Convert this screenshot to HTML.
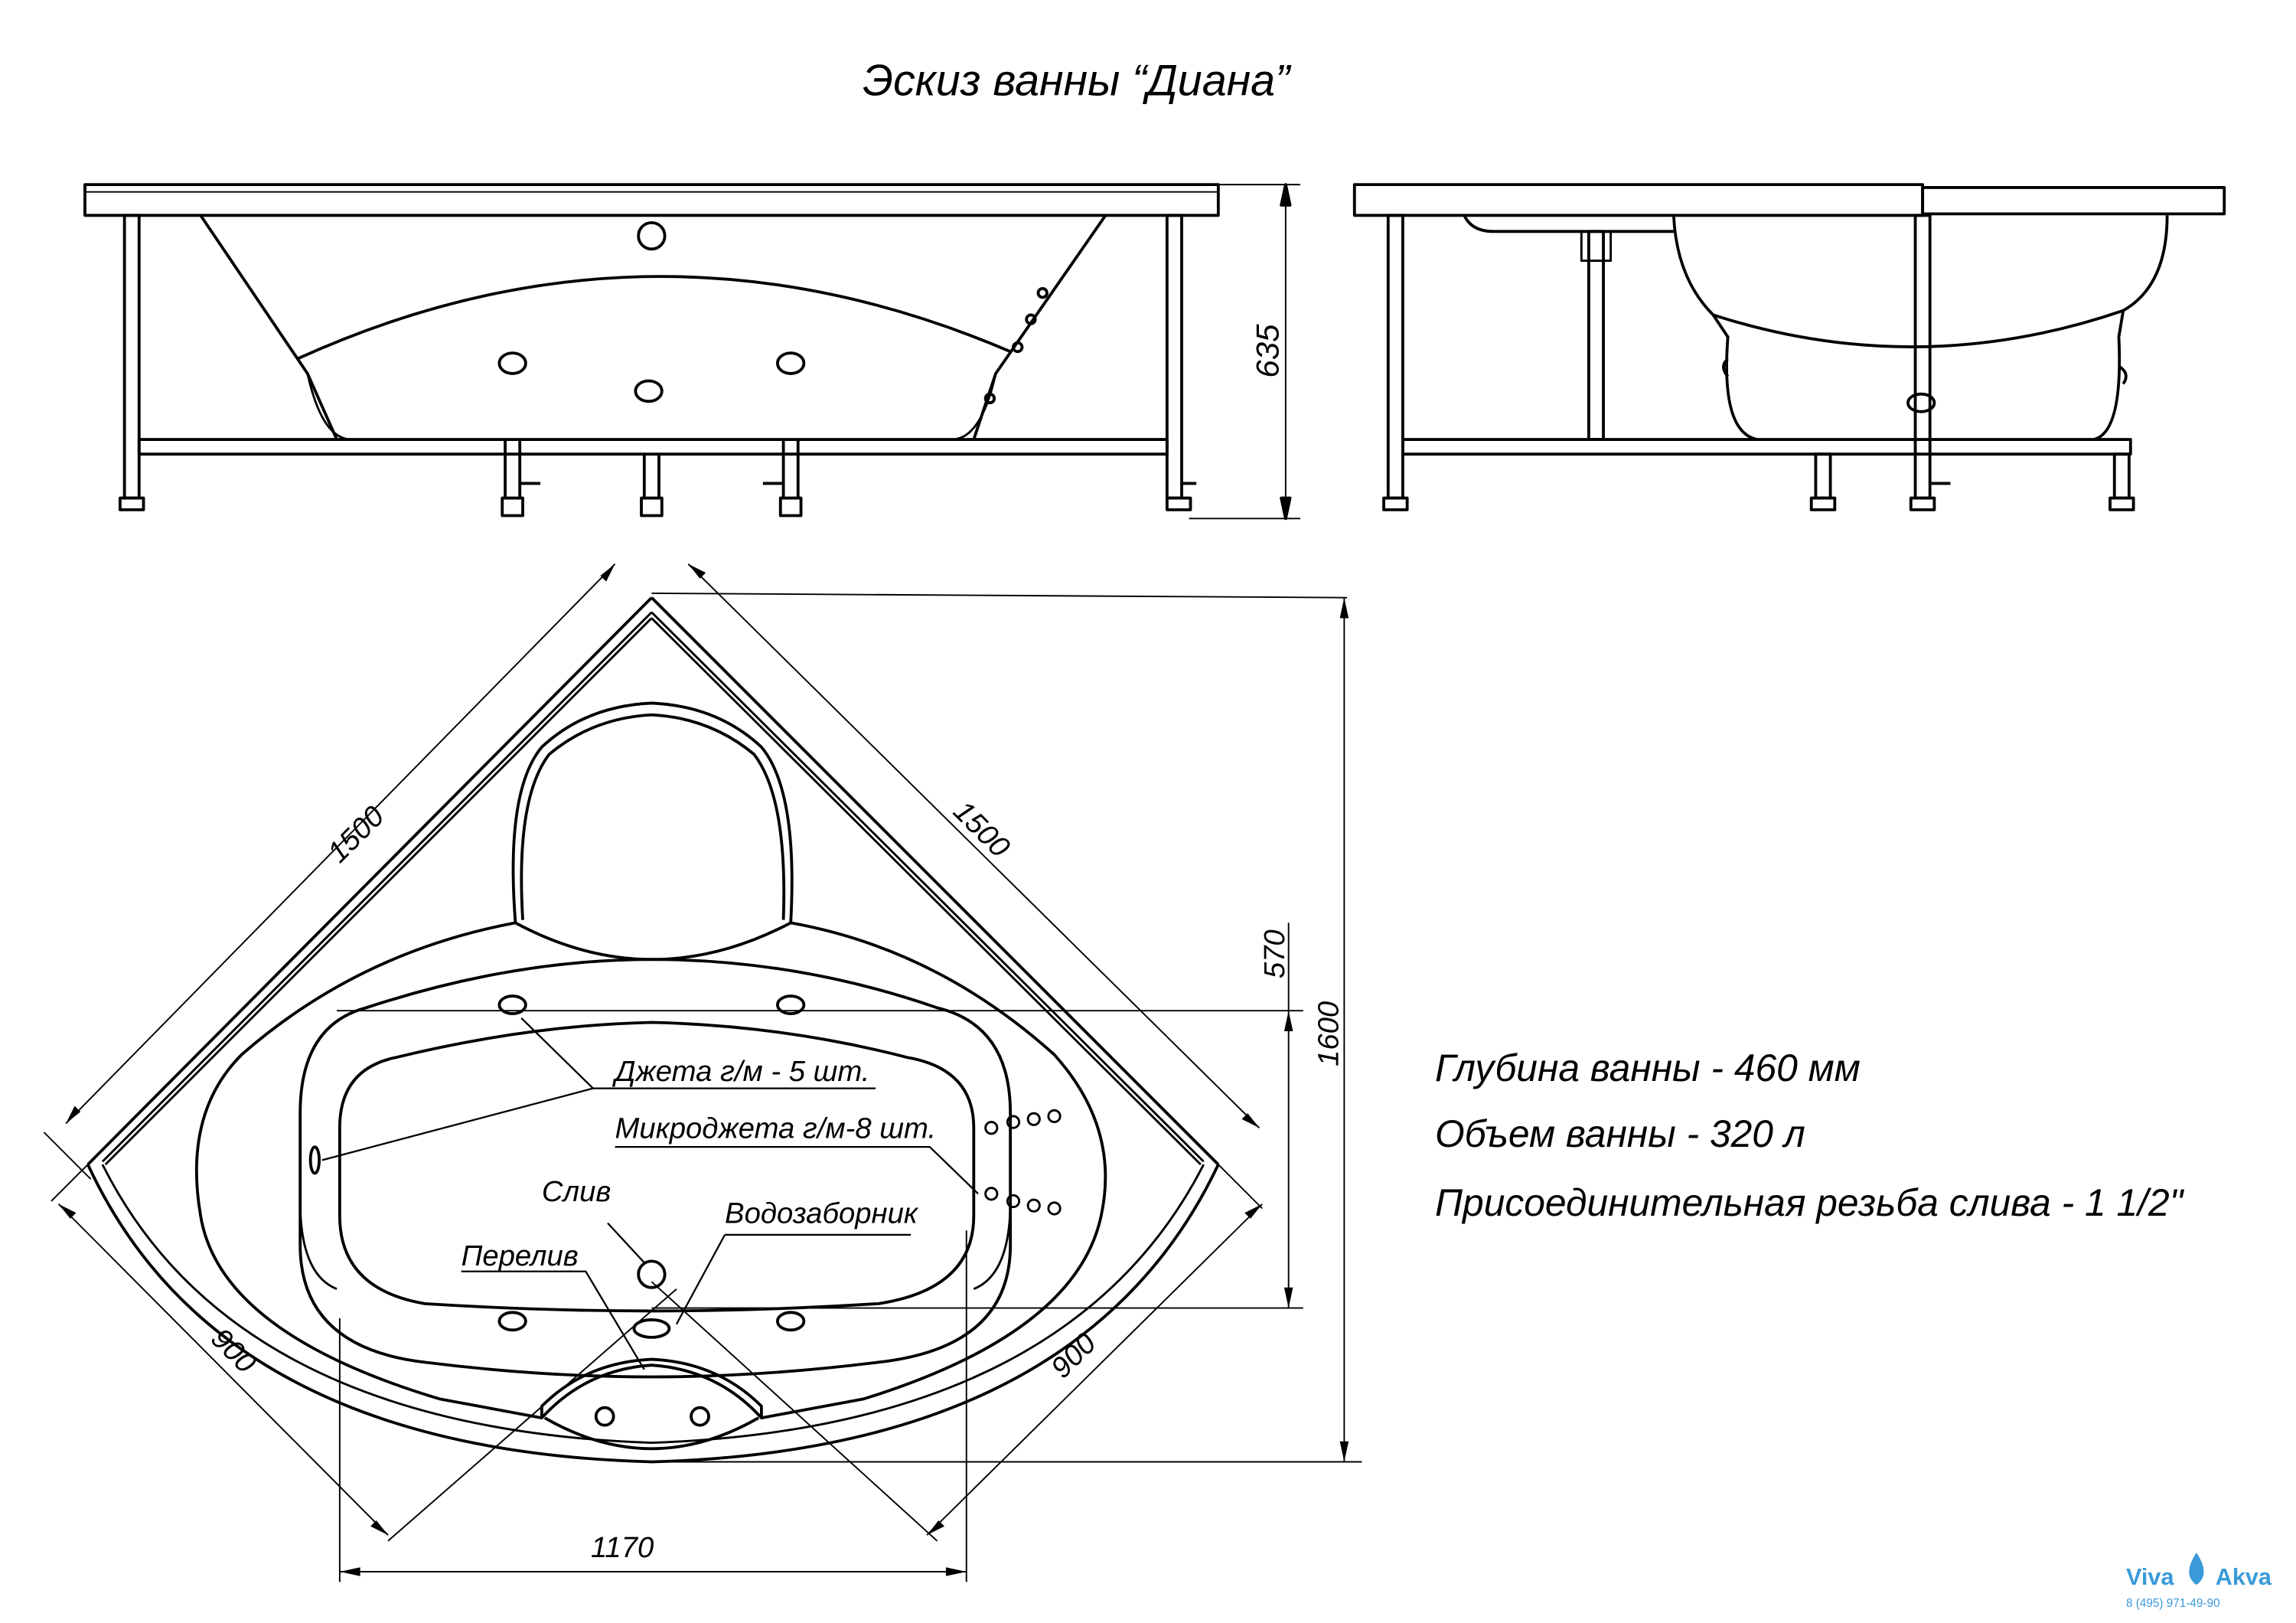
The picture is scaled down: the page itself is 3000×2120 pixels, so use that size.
<!DOCTYPE html>
<html><head><meta charset="utf-8"><style>
html,body{margin:0;padding:0;background:#fff}
svg{display:block}
text{font-family:"Liberation Sans",sans-serif;font-style:italic;fill:#000}
</style></head><body>
<svg width="3000" height="2120" viewBox="0 0 1568 1108" xmlns="http://www.w3.org/2000/svg">
<g fill="none" stroke="#000" stroke-width="2" stroke-linejoin="round">
<text x="735" y="65" font-size="30" text-anchor="middle" stroke="none">Эскиз ванны  “Диана”</text>

<!-- FRONT VIEW -->
<rect x="58" y="126" width="774" height="21"/>
<line x1="58" y1="131" x2="832" y2="131" stroke-width="1"/>
<rect x="85" y="147" width="10" height="193"/>
<rect x="797" y="147" width="10" height="193"/>
<rect x="95" y="300" width="702" height="10"/>
<path d="M137,147 L210,255 L230,300 M755,147 L680,255 L665,300"/>
<path d="M203,245 Q445,135 690,240"/>
<path d="M210,255 Q220,300 240,300 M680,255 Q670,300 650,300" stroke-width="1.5"/>
<circle cx="445" cy="161" r="9"/>
<ellipse cx="350" cy="248" rx="9" ry="7"/><ellipse cx="540" cy="248" rx="9" ry="7"/><ellipse cx="443" cy="267" rx="9" ry="7"/>
<circle cx="704" cy="218" r="3"/><circle cx="712" cy="200" r="3"/><circle cx="695" cy="237" r="3"/><circle cx="676" cy="272" r="3"/>
<g>
<path d="M82,340 h16 v8 h-16z M797,340 h16 v8 h-16z"/>
<path d="M345,300 v40 M355,300 v40 M343,340 h14 v12 h-14z M355,330 h14"/>
<path d="M440,310 v30 M450,310 v30 M438,340 h14 v12 h-14z"/>
<path d="M535,300 v40 M545,300 v40 M533,340 h14 v12 h-14z M521,330 h14"/>
<path d="M807,330 h10"/>
</g>
<line x1="832" y1="126" x2="888" y2="126" stroke-width="1"/>
<line x1="812" y1="354" x2="888" y2="354" stroke-width="1"/>
<line x1="878" y1="126" x2="878" y2="354" stroke-width="1"/>
<path d="M878,126 l-3,14 h6z M878,354 l-3,-14 h6z" fill="#000"/>
<text x="0" y="0" font-size="22" stroke="none" transform="translate(873,258) rotate(-90)">635</text>

<!-- SIDE VIEW -->
<rect x="925" y="126" width="388" height="21"/>
<rect x="1313" y="128" width="206" height="18"/>
<rect x="948" y="147" width="10" height="193"/>
<rect x="1308" y="147" width="10" height="193"/>
<rect x="958" y="300" width="497" height="10"/>
<path d="M1000,147 Q1005,158 1020,158 H1143"/>
<path d="M1143,147 Q1145,190 1170,215 L1180,230 Q1175,295 1200,300 M1480,147 Q1480,195 1450,212 L1447,230 Q1450,295 1430,300"/>
<path d="M1170,215 Q1310,260 1450,212"/>
<rect x="1085" y="158" width="10" height="142"/>
<path d="M1080,158 h20 v20 h-20z" stroke-width="1.5"/>
<ellipse cx="1312" cy="275" rx="9" ry="6"/>
<path d="M1447,250 q8,5 3,12"/>
<path d="M1180,245 q-6,5 0,12"/>
<rect x="1240" y="310" width="10" height="30"/><rect x="1444" y="310" width="10" height="30"/>
<path d="M945,340 h16 v8 h-16z M1237,340 h16 v8 h-16z M1305,340 h16 v8 h-16z M1441,340 h16 v8 h-16z M1318,330 h14"/>

<!-- TOP VIEW -->
<path d="M445,408 L60,795 M445,408 L832,795"/>
<path d="M445,418 L70,793 M445,418 L822,793" stroke-width="1.5"/>
<path d="M445,422 L72,795 M445,422 L820,795" stroke-width="1.5"/>
<path d="M60,795 Q150,990 445,998 Q740,990 832,795"/>
<path d="M70,795 Q160,975 445,985 Q730,975 822,795" stroke-width="1.5"/>
<!-- headrest -->
<path d="M352,630 Q345,540 370,510 Q400,482 445,480 Q490,482 520,510 Q545,540 540,630"/>
<path d="M357,628 Q352,545 375,515 Q405,490 445,488 Q485,490 515,515 Q538,545 535,628"/>
<path d="M352,630 Q445,680 540,630"/>
<!-- deck inner contour -->
<path d="M352,630 Q245,650 165,720 Q125,760 137,830 Q150,910 300,955 L370,968"/>
<path d="M540,630 Q640,648 720,720 Q765,770 752,830 Q735,910 590,955 L520,968"/>
<!-- basin -->
<path d="M205,760 Q205,700 250,688 Q350,655 445,655 Q545,655 640,688 Q690,700 690,760 L690,850 Q690,920 600,930 Q520,940 445,940 Q370,940 290,930 Q205,920 205,850 Z"/>
<path d="M232,770 Q232,730 270,722 Q360,700 445,698 Q535,700 620,722 Q665,730 665,770 L665,830 Q665,880 600,890 Q520,895 445,895 Q370,895 290,890 Q232,880 232,830 Z"/>
<path d="M205,820 Q205,870 230,880 M690,820 Q690,870 665,880" stroke-width="1.5"/>
<!-- seat -->
<path d="M370,968 Q400,935 445,932 Q490,935 520,968 L520,960 Q490,930 445,928 Q400,930 370,960 Z"/>
<path d="M372,968 Q445,1010 518,968"/>
<circle cx="413" cy="967" r="6"/><circle cx="478" cy="967" r="6"/>
<!-- jets -->
<ellipse cx="350" cy="686" rx="9" ry="6"/><ellipse cx="540" cy="686" rx="9" ry="6"/>
<ellipse cx="350" cy="902" rx="9" ry="6"/><ellipse cx="540" cy="902" rx="9" ry="6"/>
<ellipse cx="215" cy="792" rx="3" ry="9"/>
<ellipse cx="445" cy="907" rx="12" ry="6"/>
<circle cx="445" cy="870" r="9"/>
<g stroke-width="1.5"><circle cx="677" cy="770" r="4"/><circle cx="692" cy="766" r="4"/><circle cx="706" cy="764" r="4"/><circle cx="720" cy="762" r="4"/>
<circle cx="677" cy="815" r="4"/><circle cx="692" cy="820" r="4"/><circle cx="706" cy="823" r="4"/><circle cx="720" cy="825" r="4"/></g>
<!-- leaders -->
<g stroke-width="1.2">
<path d="M598,743 H405 L356,695 M405,743 L220,792 M420,783 H635 L668,815 M415,835 L440,862 M495,843 H622 M495,843 L462,904 M315,868 H400 L440,935"/>
</g>
<!-- dimensions -->
<g stroke-width="1">
<line x1="445" y1="405" x2="920" y2="408"/>
<line x1="832" y1="795" x2="862" y2="825"/>
<line x1="918" y1="408" x2="918" y2="998"/>
<line x1="445" y1="998" x2="930" y2="998"/>
<line x1="230" y1="690" x2="890" y2="690"/>
<line x1="445" y1="893" x2="890" y2="893"/>
<line x1="880" y1="630" x2="880" y2="893"/>
<path d="M45,767 L420,385 M470,385 L860,770 M35,820 L62,793 M30,773 L62,805 M462,880 L265,1052 M445,875 L640,1052 M232,900 L232,1080 M660,840 L660,1080 M232,1073 H660"/>
<path d="M40,822 L265,1048 M862,822 L633,1048"/>
</g>
<g fill="#000" stroke="none">
<path d="M918,408 l-3,14 h6z M918,998 l-3,-14 h6z M880,690 l-3,14 h6z M880,893 l-3,-14 h6z M232,1073 l14,-3 v6z M660,1073 l-14,-3 v6z"/>
<path d="M40,822 l12,6 l-4,4z M265,1048 l-12,-6 l4,-4z M862,822 l-12,6 l4,4z M633,1048 l12,-6 l-4,-4z"/>
<path d="M45,767 l6,-12 l4,4z M420,385 l-6,12 l-4,-4z M470,385 l12,6 l-4,4z M860,770 l-12,-6 l4,-4z"/>
</g>
<text font-size="20" stroke="none" transform="translate(232,590) rotate(-45)">1500</text>
<text font-size="20" stroke="none" transform="translate(650,555) rotate(45)">1500</text>
<text font-size="20" stroke="none" transform="translate(143,915) rotate(45)">900</text>
<text font-size="20" stroke="none" transform="translate(726,942) rotate(-45)">900</text>
<text font-size="20" stroke="none" transform="translate(877,668) rotate(-90)">570</text>
<text font-size="20" stroke="none" transform="translate(914,728) rotate(-90)">1600</text>
<text x="425" y="1063" font-size="20" stroke="none" text-anchor="middle">1170</text>
<g stroke="none" font-size="20">
<text x="420" y="738">Джета г/м - 5 шт.</text>
<text x="420" y="777">Микроджета г/м-8 шт.</text>
<text x="370" y="820">Слив</text>
<text x="495" y="835">Водозаборник</text>
<text x="315" y="864">Перелив</text>
</g>
<g stroke="none" font-size="26">
<text x="980" y="738">Глубина ванны - 460 мм</text>
<text x="980" y="783">Объем ванны - 320 л</text>
<text x="980" y="830">Присоединительная резьба слива - 1 1/2"</text>
</g>
<text x="1452" y="1082" font-size="16" stroke="none" style="fill:#3a9ad9;font-style:normal;font-weight:bold">Viva</text>
<path d="M1500,1060 q-10,15 0,22 q10,-7 0,-22z" fill="#3a9ad9" stroke="none"/>
<text x="1513" y="1082" font-size="16" stroke="none" style="fill:#3a9ad9;font-style:normal;font-weight:bold">Akva</text>
<text x="1452" y="1097" font-size="8" stroke="none" style="fill:#3a9ad9;font-style:normal">8 (495) 971-49-90</text>
</g>
</svg>
</body></html>
